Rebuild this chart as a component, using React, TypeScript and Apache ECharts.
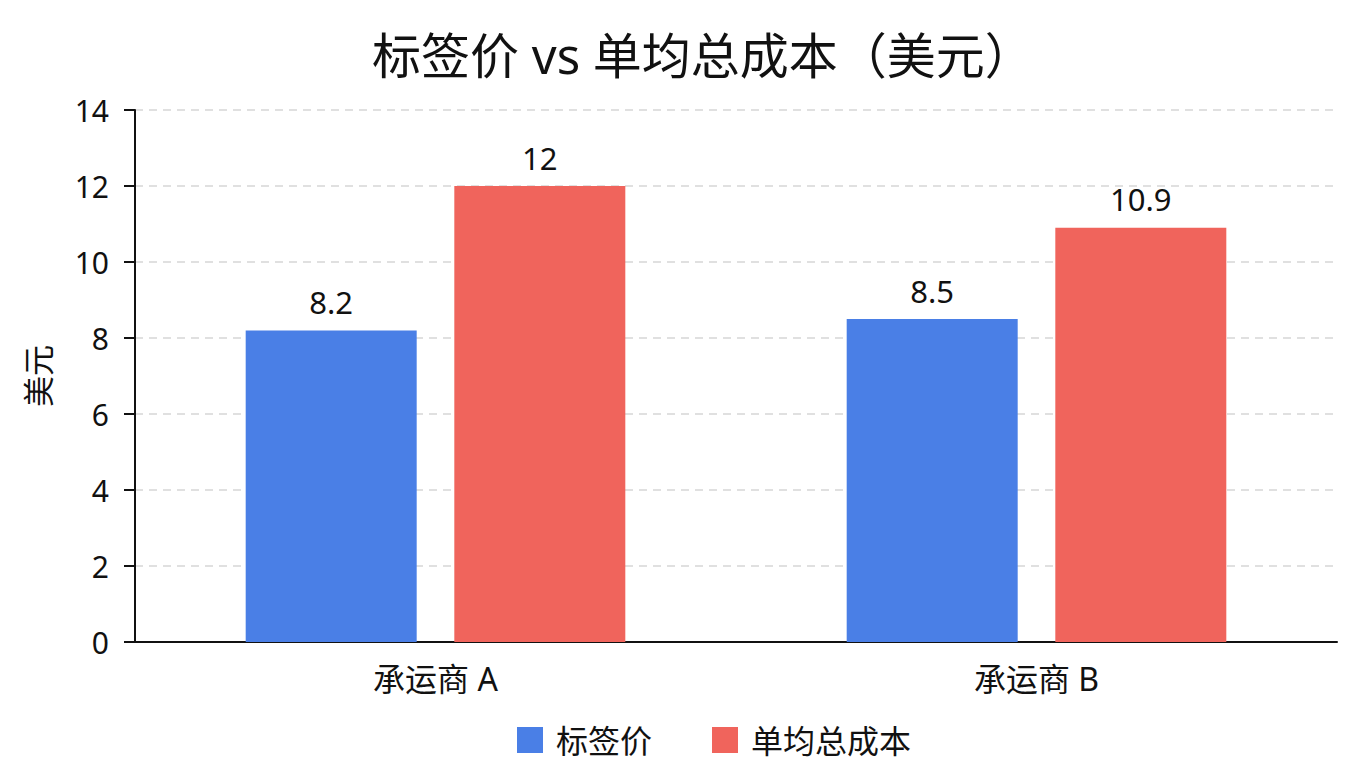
import { useEffect, useRef } from 'react';
import * as echarts from 'echarts';

const categories = ['承运商 A', '承运商 B'];
const listPrice = [8.2, 8.5];
const unitCost = [12, 10.9];
const seriesNames = ['标签价', '单均总成本'];

const FONT = '"Noto Sans", "Noto Sans CJK SC", sans-serif';

export default function App() {
  const chartRef = useRef<HTMLDivElement>(null);

  useEffect(() => {
    if (!chartRef.current) return;
    const chart = echarts.init(chartRef.current, undefined, { renderer: 'svg' });

    const labelStyle = {
      show: true,
      position: 'top',
      distance: 13,
      fontSize: 31,
      color: '#111',
      fontFamily: FONT,
    };

    chart.setOption({
      animation: false,
      backgroundColor: '#fff',
      textStyle: { fontFamily: FONT },
      title: {
        text: '标签价 vs 单均总成本（美元）',
        left: 367,
        top: 25,
        textStyle: { fontSize: 49, fontWeight: 'normal', color: '#111', fontFamily: FONT },
      },
      legend: {
        data: seriesNames,
        left: 512,
        top: 719,
        itemWidth: 26,
        itemHeight: 26,
        itemGap: 60,
        icon: 'rect',
        textStyle: { fontSize: 32, color: '#111', fontFamily: FONT, padding: [0, 0, 0, 8] },
      },
      grid: { left: 135, right: 23, top: 110, bottom: 126 },
      xAxis: {
        type: 'category',
        data: categories,
        axisLine: { lineStyle: { color: '#111', width: 2 } },
        axisTick: { show: false },
        axisLabel: { fontSize: 32, color: '#111', margin: 20, fontFamily: FONT },
      },
      yAxis: {
        type: 'value',
        min: 0,
        max: 14,
        interval: 2,
        name: '美元',
        nameLocation: 'middle',
        nameRotate: 90,
        nameGap: 82,
        nameTextStyle: { fontSize: 31, color: '#111', fontFamily: FONT },
        axisLine: { show: true, lineStyle: { color: '#111', width: 2 } },
        axisTick: { show: true, length: 11, lineStyle: { color: '#111', width: 2 } },
        axisLabel: { fontSize: 30, color: '#111', margin: 26, fontFamily: FONT },
        splitLine: { lineStyle: { color: '#d6d6d6', type: [8, 6], width: 1.5 } },
      },
      series: [
        {
          name: seriesNames[0],
          type: 'bar',
          data: listPrice,
          barWidth: 171,
          barGap: '22%',
          itemStyle: { color: '#4a7fe6' },
          label: labelStyle,
        },
        {
          name: seriesNames[1],
          type: 'bar',
          data: unitCost,
          barWidth: 171,
          barGap: '22%',
          itemStyle: { color: '#f0645c' },
          label: labelStyle,
        },
      ],
    });

    return () => chart.dispose();
  }, []);

  return <div ref={chartRef} style={{ width: 1360, height: 768, margin: -8 }} />;
}
